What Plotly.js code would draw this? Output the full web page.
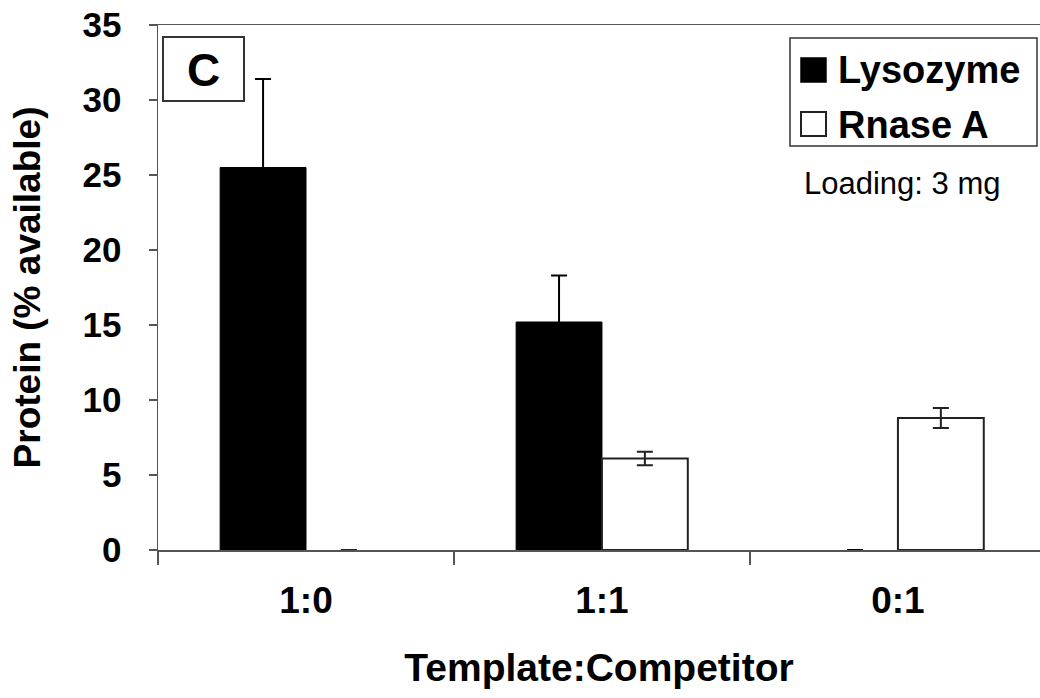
<!DOCTYPE html>
<html>
<head>
<meta charset="utf-8">
<script src="https://cdn.plot.ly/plotly-3.0.1.min.js"></script>
<style>html,body{margin:0;padding:0;background:#fff;}#chart{width:1040px;height:698px;}</style>
</head>
<body>
<div id="chart"></div>
<script>
// ---- data ----
var categories = ["1:0", "1:1", "0:1"];
var seriesNames = ["Lysozyme", "Rnase A"];
var lysozyme = [25.5, 15.2, 0];
var lysozymeErr = [5.9, 3.1, 0];
var rnase = [0, 6.1, 8.8];
var rnaseErr = [0, 0.45, 0.67];
var yTicks = [0, 5, 10, 15, 20, 25, 30, 35];
var panelLabel = "C";
var noteText = "Loading: 3 mg";
var xTitle = "Template:Competitor";
var yTitle = "Protein (% available)";

// ---- layout helpers (pixel -> paper) ----
var W = 1040, H = 698, L = 158, R = 0, T = 25, B = 148;
var pw = W - L - R, ph = H - T - B;
function px(x) { return (x - L) / pw; }
function py(y) { return (H - B - y) / ph; }

var FONT = "Liberation Sans, Arial, sans-serif";
var axisCol = "#555";

// outline only on non-zero bars
function outline(vals, w) { return vals.map(function (v) { return v > 0 ? w : 0; }); }

var traces = [
  {
    type: "bar", name: seriesNames[0], x: categories, y: lysozyme,
    marker: {color: "#000", line: {color: "#000", width: outline(lysozyme, 1)}},
    error_y: {type: "data", array: lysozymeErr, visible: true, color: "#000", thickness: 2, width: 8},
    showlegend: false, hoverinfo: "skip"
  },
  {
    type: "bar", name: seriesNames[1], x: categories, y: rnase,
    marker: {color: "#fff", line: {color: "#222", width: outline(rnase, 2)}},
    error_y: {type: "data", array: rnaseErr, visible: true, color: "#222", thickness: 2, width: 8},
    showlegend: false, hoverinfo: "skip"
  }
];

var shapes = [
  // panel label box
  {type: "rect", xref: "paper", yref: "paper", x0: px(163), x1: px(244), y0: py(101), y1: py(37),
   line: {color: "#333", width: 2}, fillcolor: "#fff"},
  // legend box
  {type: "rect", xref: "paper", yref: "paper", x0: px(790), x1: px(1037), y0: py(146), y1: py(38),
   line: {color: "#333", width: 1.5}, fillcolor: "#fff"},
  // legend swatches
  {type: "rect", xref: "paper", yref: "paper", x0: px(801), x1: px(826), y0: py(82), y1: py(58),
   line: {color: "#000", width: 1.5}, fillcolor: "#000"},
  {type: "rect", xref: "paper", yref: "paper", x0: px(801), x1: px(826), y0: py(136), y1: py(112),
   line: {color: "#222", width: 2}, fillcolor: "#fff"}
];

var annotations = [
  {xref: "paper", yref: "paper", x: px(203.5), y: py(70), text: "<b>" + panelLabel + "</b>", showarrow: false,
   xanchor: "center", yanchor: "middle", font: {family: FONT, size: 46, color: "#000"}},
  {xref: "paper", yref: "paper", x: px(836), y: py(70), text: "<b>" + seriesNames[0] + "</b>", showarrow: false,
   xanchor: "left", yanchor: "middle", font: {family: FONT, size: 38, color: "#000"}},
  {xref: "paper", yref: "paper", x: px(836), y: py(125), text: "<b>" + seriesNames[1] + "</b>", showarrow: false,
   xanchor: "left", yanchor: "middle", font: {family: FONT, size: 38, color: "#000"}},
  {xref: "paper", yref: "paper", x: px(902), y: py(184), text: noteText, showarrow: false,
   xanchor: "center", yanchor: "middle", font: {family: FONT, size: 31, color: "#000"}}
];

var layout = {
  width: W, height: H,
  margin: {l: L, r: R, t: T, b: B, pad: 0},
  paper_bgcolor: "#fff", plot_bgcolor: "#fff",
  barmode: "group", bargap: 0.42, bargroupgap: 0,
  showlegend: false,
  font: {family: FONT, color: "#000"},
  xaxis: {
    type: "category", range: [-0.5, 2.48], fixedrange: true,
    showline: true, mirror: true, linecolor: axisCol, linewidth: 1.5,
    ticks: "outside", tickson: "boundaries", ticklen: 13, tickcolor: axisCol, tickwidth: 1.5,
    tickfont: {family: FONT, size: 37, color: "#000", weight: "bold"},
    ticklabelstandoff: 17,
    showgrid: false, zeroline: false, automargin: false,
    title: {text: "<b>" + xTitle + "</b>", font: {family: FONT, size: 39, color: "#000"}, standoff: 34}
  },
  yaxis: {
    range: [0, 35], tickvals: yTicks, ticktext: yTicks.map(String), fixedrange: true,
    showline: true, linecolor: axisCol, linewidth: 1.5,
    ticks: "outside", ticklen: 8, tickcolor: axisCol, tickwidth: 1.5,
    tickfont: {family: FONT, size: 35, color: "#000", weight: "bold"},
    ticklabelstandoff: 20,
    showgrid: false, zeroline: false, automargin: false,
    title: {text: "<b>" + yTitle + "</b>", font: {family: FONT, size: 37, color: "#000"}, standoff: 30}
  },
  shapes: shapes,
  annotations: annotations
};

Plotly.newPlot("chart", traces, layout, {displayModeBar: false, staticPlot: true});
</script>
</body>
</html>
